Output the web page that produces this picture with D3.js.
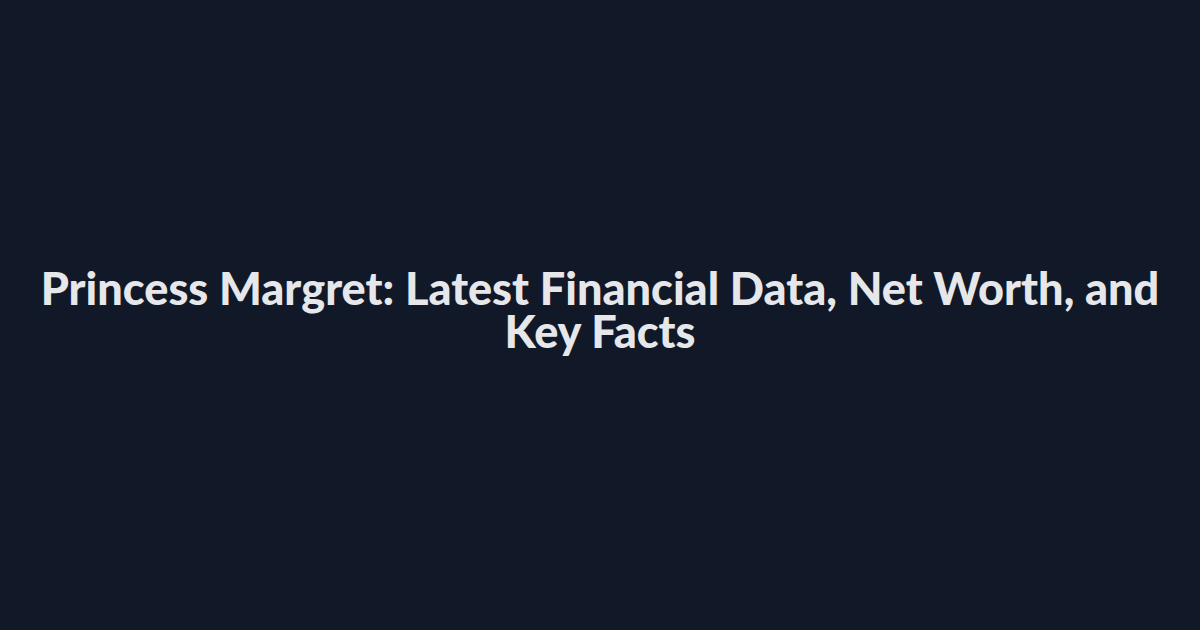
<!DOCTYPE html>
<html lang="en">
<head>
  <meta charset="UTF-8">
  <title>Princess Margret</title>
  <script src="https://d3js.org/d3.v7.min.js"></script>
  <style>
    html, body { margin: 0; padding: 0; background: #111827; }
    svg { display: block; }
  </style>
</head>
<body>
  <div id="chart"></div>
  <script>
    // Title lines as they wrap in the card
    const titleLines = ["Princess Margret: Latest Financial Data, Net Worth, and", "Key Facts"];

    const width = 1200;
    const height = 630;

    const svg = d3.select("#chart")
      .append("svg")
      .attr("width", width)
      .attr("height", height);

    svg.append("rect")
      .attr("width", width)
      .attr("height", height)
      .attr("fill", "#111827");

    // Baselines for each line
    const y = d3.scalePoint()
      .domain(titleLines)
      .range([305, 348]);

    const title = svg.selectAll("text.title")
      .data(titleLines)
      .enter()
      .append("text")
      .attr("class", "title")
      .attr("x", width / 2)
      .attr("y", d => y(d))
      .attr("text-anchor", "middle")
      .attr("font-family", "Lato, 'Open Sans', sans-serif")
      .attr("font-weight", 900)
      .attr("font-size", "36px")
      .attr("fill", "#e5e7eb")
      .text(d => d);

    // Fit the long line to the card width used in the reference
    const first = title.nodes()[0];
    const w = first.getComputedTextLength();
    const size = 36 * 1119 / w;
    title.attr("font-size", size + "px");
  </script>
</body>
</html>
